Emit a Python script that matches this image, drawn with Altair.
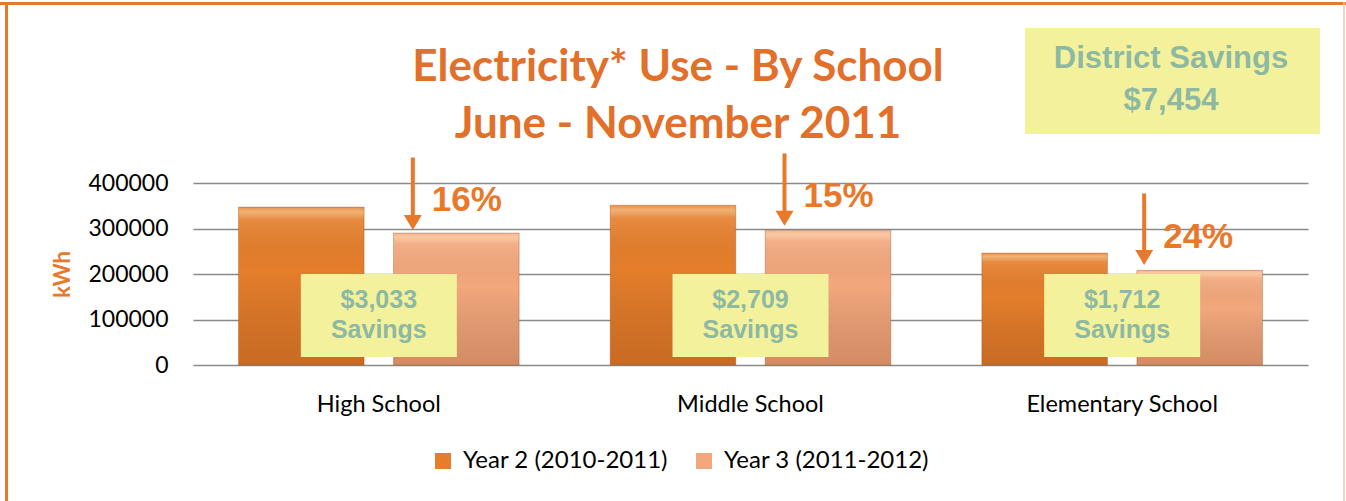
import altair as alt
import pandas as pd

# ---------------- data ----------------
schools = ["High School", "Middle School", "Elementary School"]
series = ["Year 2 (2010-2011)", "Year 3 (2011-2012)"]
year2_kwh = [347000, 351000, 246000]
year3_kwh = [290000, 296000, 208000]
savings_amount = ["$3,033", "$2,709", "$1,712"]
savings_word = ["Savings", "Savings", "Savings"]
pct_labels = ["16%", "15%", "24%"]
arrow_top_kwh = [456000, 465000, 377000]
arrow_tip_kwh = [298000, 307000, 221000]
pct_base_kwh = [338000, 347000, 258000]
arrow_dx = [34, 34, 22]
district_lines = ["District Savings", "$7,454"]
title_lines = ["Electricity* Use - By School", "June - November 2011"]
y_ticks = [0, 100000, 200000, 300000, 400000]

# ---------------- styles ----------------
ORANGE = "#E8792B"
TITLE_ORANGE = "#E2702A"
BOX_FILL = "#F3F19B"
BOX_TEXT = "#8DB9A3"
SANS = "Liberation Sans"
LATO = "Lato"
W, H = 1115, 182
PL, PT = 193, 183

bars_df = pd.DataFrame({
    "School": schools * 2,
    "Series": [series[0]] * 3 + [series[1]] * 3,
    "kWh": year2_kwh + year3_kwh,
})
ann_df = pd.DataFrame({
    "School": schools,
    "amount": savings_amount,
    "word": savings_word,
    "pct": pct_labels,
    "top": arrow_top_kwh,
    "tip": arrow_tip_kwh,
    "base": pct_base_kwh,
})

x_enc = alt.X(
    "School:N", sort=schools, title=None,
    scale=alt.Scale(paddingInner=0.245, paddingOuter=0.1225),
    axis=alt.Axis(labelFont=LATO, labelFontSize=23.5, labelColor="#000000", labelLimit=0,
                  labelPadding=27, ticks=False, domain=False, grid=False, labelAngle=0),
)


def y_enc(field):
    return alt.Y(
        f"{field}:Q", title="kWh",
        scale=alt.Scale(domain=[0, 400000], nice=False, zero=True),
        axis=alt.Axis(values=y_ticks, format="d", labelFont=LATO, labelFontSize=23,
                      labelColor="#000000", labelPadding=25, ticks=False, domain=False,
                      gridColor="#8A8A8A", gridWidth=1.5, titleFont=LATO,
                      titleFontSize=22, titleFontWeight="bold", titleColor=ORANGE,
                      titlePadding=13),
    )


xoff = alt.XOffset("Series:N", sort=series, scale=alt.Scale(paddingInner=0.19))

bars = alt.Chart(bars_df).mark_bar().encode(
    x=x_enc, xOffset=xoff, y=y_enc("kWh"),
    color=alt.Color(
        "Series:N", sort=series,
        scale=alt.Scale(domain=series, range=["#E57E2B", "#F3A77C"]),
        legend=alt.Legend(orient="none", legendX=238, legendY=266, direction="horizontal",
                          title=None, labelFont=LATO, labelFontSize=24, labelColor="#000000",
                          labelLimit=0, symbolType="square", symbolSize=256,
                          symbolStrokeWidth=0, columnPadding=24, labelOffset=8),
    ),
)

shade = alt.Chart(bars_df).mark_bar(
    fill=alt.Gradient(
        gradient="linear", x1=0, x2=0, y1=0, y2=1,
        stops=[
            alt.GradientStop(color="rgba(255,255,255,0.15)", offset=0),
            alt.GradientStop(color="rgba(255,240,200,0.45)", offset=0.03),
            alt.GradientStop(color="rgba(255,255,255,0.1)", offset=0.08),
            alt.GradientStop(color="rgba(0,0,0,0.0)", offset=0.4),
            alt.GradientStop(color="rgba(90,30,0,0.2)", offset=1),
        ],
    ),
    stroke="#9A4E1A", strokeWidth=1, strokeOpacity=0.35,
).encode(x=x_enc, xOffset=xoff, y=y_enc("kWh"))

boxes = alt.Chart(ann_df).mark_bar(color=BOX_FILL, width=156).encode(
    x=x_enc, y=alt.value(91), y2=alt.value(174)
)
box_amount = alt.Chart(ann_df).mark_text(
    font=SANS, fontWeight="bold", fontSize=25, color=BOX_TEXT, baseline="alphabetic"
).encode(x=x_enc, y=alt.value(125), text="amount:N")
box_word = alt.Chart(ann_df).mark_text(
    font=SANS, fontWeight="bold", fontSize=25, color=BOX_TEXT, baseline="alphabetic"
).encode(x=x_enc, y=alt.value(155), text="word:N")

arrow_layers = []
for i, s in enumerate(schools):
    d = ann_df[ann_df["School"] == s]
    arrow_layers.append(alt.Chart(d).mark_rule(
        color=ORANGE, strokeWidth=4, xOffset=arrow_dx[i], y2Offset=-10
    ).encode(x=x_enc, y=y_enc("top"), y2="tip:Q"))
    arrow_layers.append(alt.Chart(d).mark_point(
        shape="M-1,-0.83L1,-0.83L0,0.83Z", size=324, filled=True, opacity=1,
        color=ORANGE, xOffset=arrow_dx[i], yOffset=-7
    ).encode(x=x_enc, y=y_enc("tip")))
    arrow_layers.append(alt.Chart(d).mark_text(
        align="left", baseline="alphabetic", font=SANS, fontWeight="bold",
        fontSize=35, color=ORANGE, dx=arrow_dx[i] + 19
    ).encode(x=x_enc, y=y_enc("base"), text="pct:N"))

one = alt.Data(values=[{}])
border_top = alt.Chart(one).mark_rule(color=ORANGE, strokeWidth=3).encode(
    x=alt.value(-PL), x2=alt.value(1346 - PL), y=alt.value(3.5 - PT))
border_left = alt.Chart(one).mark_rule(color=ORANGE, strokeWidth=3).encode(
    x=alt.value(6.5 - PL), y=alt.value(2 - PT), y2=alt.value(501 - PT))
border_right = alt.Chart(one).mark_rule(color="#F6C9A8", strokeWidth=1.5).encode(
    x=alt.value(1344 - PL), y=alt.value(2 - PT), y2=alt.value(501 - PT))

district_box = alt.Chart(one).mark_rect(color=BOX_FILL).encode(
    x=alt.value(1025 - PL), x2=alt.value(1320 - PL),
    y=alt.value(28 - PT), y2=alt.value(134 - PT))
district_df = pd.DataFrame({"line": district_lines, "ypix": [68 - PT, 110 - PT]})
district_text = [
    alt.Chart(district_df.iloc[[k]]).mark_text(
        font=SANS, fontWeight="bold", fontSize=31, color=BOX_TEXT, baseline="alphabetic"
    ).encode(x=alt.value(1171 - PL), y=alt.value(float(district_df["ypix"].iloc[k])),
             text="line:N")
    for k in range(2)
]

title_df = pd.DataFrame({"line": title_lines, "ypix": [81 - PT, 138 - PT]})
title_text = [
    alt.Chart(title_df.iloc[[k]]).mark_text(
        font=LATO, fontWeight="bold", fontSize=44, color=TITLE_ORANGE, baseline="alphabetic"
    ).encode(x=alt.value(678 - PL), y=alt.value(float(title_df["ypix"].iloc[k])),
             text="line:N")
    for k in range(2)
]

chart = alt.layer(
    border_top, border_left, border_right, district_box, *district_text, *title_text,
    bars, shade, boxes, box_amount, box_word, *arrow_layers,
).properties(
    width=W, height=H,
    autosize=alt.AutoSizeParams(type="none"),
    padding={"left": PL, "top": PT, "right": 1346 - PL - W, "bottom": 501 - PT - H},
    background="white",
).configure_view(stroke=None)

chart.save("out.html", embed_options={"renderer": "svg", "actions": False})
